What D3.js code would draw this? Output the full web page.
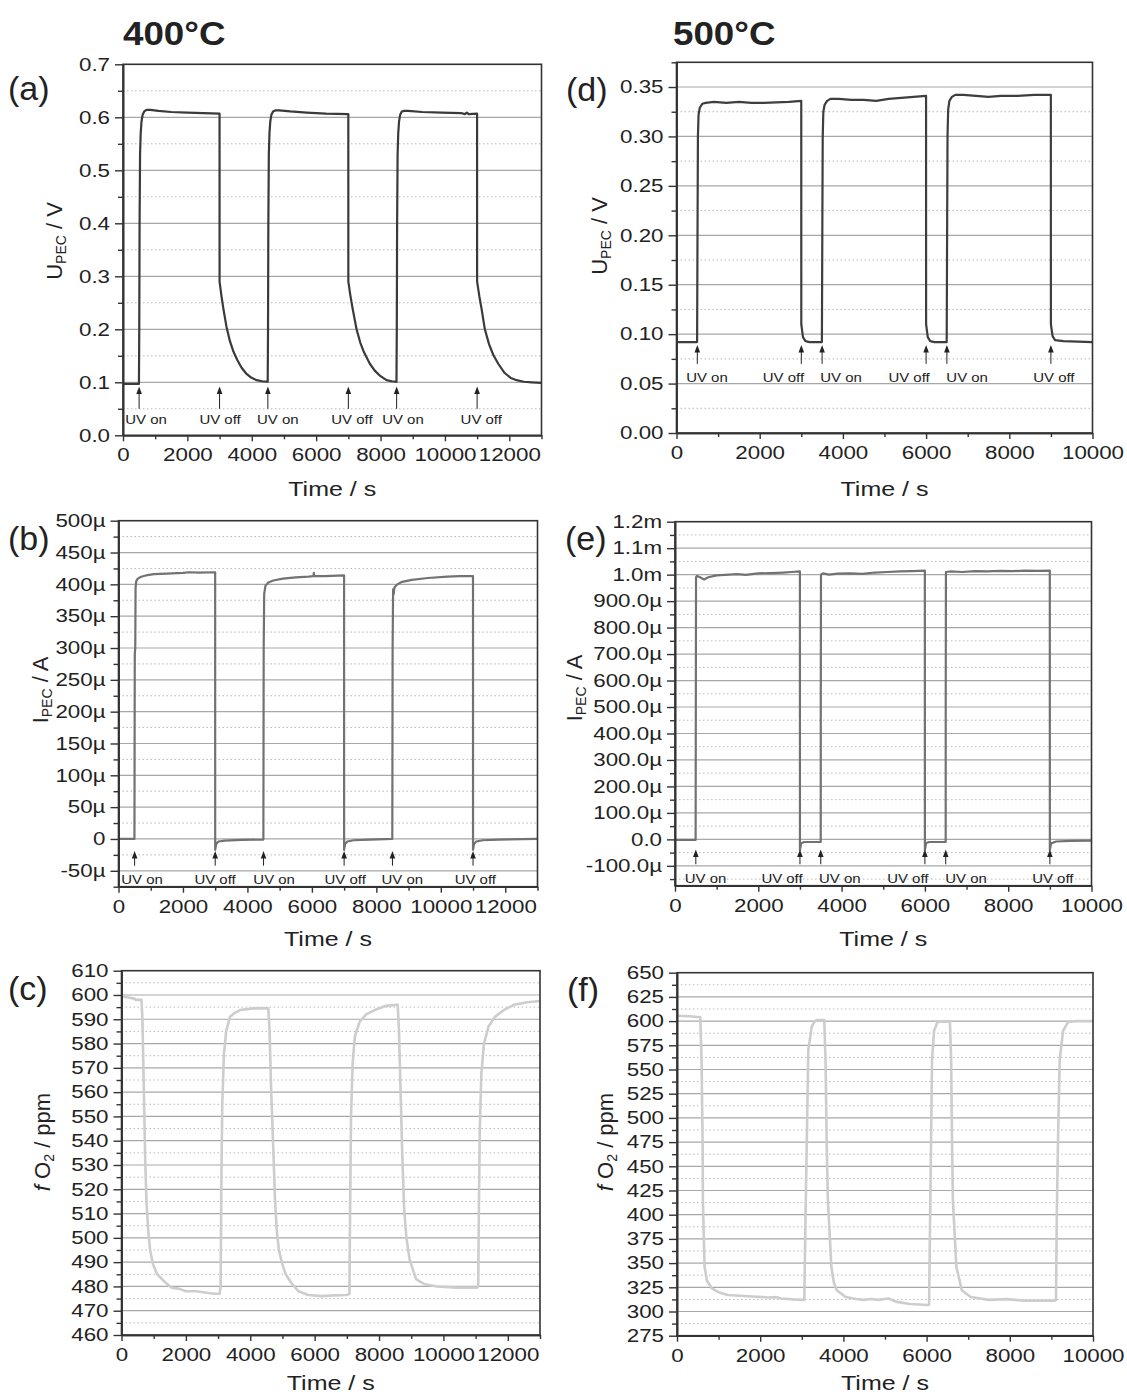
<!DOCTYPE html>
<html>
<head>
<meta charset="utf-8">
<script src="https://cdn.jsdelivr.net/npm/d3@7"></script>
<style>
body { margin: 0; background: #fff; }
text { font-family: "Liberation Sans", Arial, sans-serif; fill: #222; }
</style>
</head>
<body>
<div id="content"></div>
<script>
// ---- data ----
// time / s, U_PEC / V at 400 C  (panel a)
var uPec400 = [
	[0,0.097],[495,0.097],[505,0.2],[515,0.4],[530,0.53],[550,0.57],[575,0.592],[610,0.605],[660,0.611],[730,0.614],[850,0.614],[1100,0.612],[1500,0.61],[2000,0.609],[2500,0.608],[2999,0.607],
	[3000,0.29],[3060,0.262],[3120,0.238],[3214,0.205],[3320,0.178],[3430,0.158],[3550,0.142],[3680,0.128],[3820,0.117],[3980,0.109],[4150,0.104],[4320,0.102],[4495,0.101],
	[4505,0.2],[4515,0.4],[4530,0.53],[4550,0.57],[4575,0.592],[4610,0.605],[4660,0.611],[4730,0.613],[4850,0.613],[5200,0.611],[5700,0.609],[6300,0.607],[6999,0.606],
	[7000,0.29],[7060,0.265],[7130,0.24],[7255,0.2],[7370,0.175],[7490,0.156],[7668,0.135],[7820,0.122],[7990,0.112],[8186,0.104],[8350,0.102],[8495,0.101],
	[8505,0.2],[8515,0.4],[8530,0.53],[8550,0.57],[8575,0.592],[8610,0.605],[8660,0.611],[8730,0.612],[8850,0.612],[9300,0.61],[9900,0.609],[10500,0.608],[10620,0.606],[10680,0.609],[10740,0.606],[10999,0.607],
	[11000,0.29],[11070,0.262],[11140,0.238],[11240,0.2],[11370,0.172],[11500,0.152],[11657,0.135],[11850,0.118],[12050,0.108],[12228,0.104],[12450,0.101],[12700,0.1],[13000,0.099]
];
// time / s, U_PEC / V at 500 C  (panel d)
var uPec500 = [
	[0,0.092],[495,0.092],[505,0.2],[515,0.3],[530,0.322],[560,0.329],[620,0.333],[700,0.334],[900,0.335],[1200,0.334],[1500,0.335],[1800,0.334],[2100,0.334],[2400,0.3345],[2700,0.335],[2999,0.336],
	[3000,0.11],[3040,0.097],[3100,0.093],[3200,0.092],[3495,0.092],
	[3505,0.2],[3515,0.3],[3530,0.325],[3560,0.332],[3620,0.336],[3700,0.338],[3900,0.338],[4200,0.337],[4500,0.337],[4800,0.336],[5100,0.338],[5400,0.339],[5700,0.34],[5999,0.341],
	[6000,0.11],[6040,0.097],[6100,0.093],[6200,0.092],[6495,0.092],
	[6505,0.2],[6515,0.3],[6530,0.327],[6560,0.336],[6620,0.34],[6700,0.342],[6900,0.342],[7200,0.341],[7500,0.34],[7800,0.341],[8200,0.341],[8600,0.342],[8999,0.342],
	[9000,0.11],[9040,0.098],[9100,0.094],[9300,0.093],[10000,0.092]
];
// time / s, I_PEC / uA at 400 C  (panel b)
var iPec400 = [
	[0,0],[495,0],[500,150],[505,290],[520,300],[530,395],[550,405],[600,409],[700,412],[850,414],[1100,416],[1500,417],[2000,418],[2200,419],[2500,418.5],[2999,419],
	[3000,-17],[3030,-8],[3100,-4],[3300,-2.5],[3800,-1.5],[4495,-1],
	[4500,150],[4505,300],[4520,385],[4560,398],[4650,403],[4800,406],[5100,409],[5500,411],[5900,412],[6050,413],[6060,418],[6070,413],[6400,413],[6999,414],
	[7000,-17],[7030,-8],[7100,-4],[7300,-2],[7800,-1],[8495,0],
	[8500,150],[8505,300],[8520,392],[8540,385],[8560,395],[8650,400],[8800,404],[9100,407],[9600,410],[10200,412],[10600,413],[10999,413],
	[11000,-17],[11030,-8],[11100,-4],[11300,-2],[11800,-1],[13000,0]
];
// time / s, I_PEC / uA at 500 C  (panel e)
var iPec500 = [
	[0,-2],[495,-2],[500,500],[505,990],[530,995],[600,990],[700,982],[800,990],[1000,997],[1300,1000],[1500,1002],[1700,999],[2000,1005],[2300,1006],[2600,1008],[2800,1010],[2999,1012],
	[3000,-40],[3030,-15],[3100,-10],[3499,-10],
	[3500,500],[3505,1000],[3550,1005],[3700,1000],[3900,1004],[4200,1005],[4500,1003],[4800,1008],[5100,1010],[5400,1012],[5700,1013],[5999,1015],
	[6000,-40],[6030,-14],[6100,-10],[6499,-10],
	[6500,500],[6505,1010],[6600,1012],[6900,1010],[7200,1013],[7500,1012],[7800,1014],[8100,1013],[8400,1015],[8700,1014],[8999,1015],
	[9000,-40],[9030,-15],[9150,-8],[9500,-6],[10000,-5]
];
// time / s, fO2 / ppm at 400 C  (panel c)
var fO2_400 = [
	[0,599.3],[200,599],[400,598.5],[450,598],[550,598],[620,598],[650,590],[680,570],[710,550],[740,530],[776,515],[830,503],[888,495],[980,489],[1109,485],[1332,482],[1550,479.5],[1800,479],[2000,478],[2330,478],[2600,477.5],[2876,477],[3050,477],
	[3080,480],[3100,520],[3130,555],[3180,575],[3250,585],[3370,591],[3500,592.5],[3680,593.8],[4100,594.5],[4560,594.5],
	[4600,585],[4650,560],[4717,536],[4770,515],[4830,502],[4890,495],[5000,489],[5100,485],[5300,481],[5500,478],[5800,476.5],[6200,476],[6600,476.3],[7000,476.5],[7080,477],
	[7100,510],[7130,550],[7180,572],[7250,583],[7400,589],[7600,592],[7900,594],[8200,595.5],[8580,596],
	[8620,585],[8670,560],[8720,535],[8780,512],[8850,500],[8950,491],[9150,483],[9400,481],[9800,480],[10400,479.5],[11050,479.5],[11080,480],
	[11100,510],[11130,545],[11180,568],[11260,580],[11400,587],[11600,591],[11900,594],[12200,596],[12600,597],[13000,597.5]
];
// time / s, fO2 / ppm at 500 C  (panel f)
var fO2_500 = [
	[0,605.5],[300,605],[560,604],[590,560],[617,470],[622,415],[663,346],[720,332],[836,324],[1000,320],[1223,317],[1600,316],[1909,315.3],[2200,314.5],[2400,314.8],[2500,313.5],[2800,312.5],[3026,312],[3060,312],
	[3090,400],[3117,467],[3156,570],[3237,594],[3300,599],[3358,601],[3540,601],
	[3570,560],[3600,470],[3627,415],[3711,346],[3770,330],[3841,322],[4055,315],[4300,313],[4485,312],[4656,313],[4842,312],[5000,313],[5086,313.5],[5257,310.2],[5601,307.8],[6031,306.7],[6060,307],
	[6080,380],[6100,450],[6130,560],[6180,590],[6250,598],[6300,599.5],[6560,599.5],
	[6590,560],[6610,480],[6632,415],[6716,346],[6846,322],[7060,315],[7490,312],[7918,312.8],[8348,311.2],[9080,311.2],[9110,312],
	[9130,400],[9160,480],[9200,560],[9280,590],[9400,599],[9600,600],[10000,600]
];

// UV on/off marks: arrow time, label, label centre time
var uvMarks400 = [
	{t: 500, text: "UV on", lt: 715},
	{t: 3000, text: "UV off", lt: 3015},
	{t: 4500, text: "UV on", lt: 4809},
	{t: 7000, text: "UV off", lt: 7112},
	{t: 8500, text: "UV on", lt: 8697},
	{t: 11000, text: "UV off", lt: 11128}
];
var uvMarks400b = [
	{t: 500, text: "UV on", lt: 730},
	{t: 3000, text: "UV off", lt: 2997},
	{t: 4500, text: "UV on", lt: 4829},
	{t: 7000, text: "UV off", lt: 7034},
	{t: 8500, text: "UV on", lt: 8804},
	{t: 11000, text: "UV off", lt: 11071}
];
var uvMarks500 = [
	{t: 500, text: "UV on", lt: 733},
	{t: 3000, text: "UV off", lt: 2570},
	{t: 3500, text: "UV on", lt: 3957},
	{t: 6000, text: "UV off", lt: 5590},
	{t: 6500, text: "UV on", lt: 6987},
	{t: 9000, text: "UV off", lt: 9072}
];

// tick values
var timeTicks400 = [0, 2000, 4000, 6000, 8000, 10000, 12000];
var timeTicks500 = [0, 2000, 4000, 6000, 8000, 10000];
var ticksA = [0, 0.1, 0.2, 0.3, 0.4, 0.5, 0.6, 0.7];
var ticksD = [0, 0.05, 0.1, 0.15, 0.2, 0.25, 0.3, 0.35];
var ticksB = [-50, 0, 50, 100, 150, 200, 250, 300, 350, 400, 450, 500];
var ticksE = [-100, 0, 100, 200, 300, 400, 500, 600, 700, 800, 900, 1000, 1100, 1200];
var ticksC = [460, 470, 480, 490, 500, 510, 520, 530, 540, 550, 560, 570, 580, 590, 600, 610];
var ticksF = [275, 300, 325, 350, 375, 400, 425, 450, 475, 500, 525, 550, 575, 600, 625, 650];

var svg = d3.select("#content").append("svg")
	.attr("width", 1127).attr("height", 1397)
	.attr("id", "svg");

svg.append("rect").attr("width", 1127).attr("height", 1397).style("fill", "#fff");

// widen text horizontally like the scanned figure
function stretch(sel, k) {
	sel.each(function () {
		var w = this.getComputedTextLength();
		d3.select(this).attr("textLength", w * k).attr("lengthAdjust", "spacingAndGlyphs");
	});
}

function minorsOf(domain, step, majors) {
	var lo = Math.min(domain[0], domain[1]), hi = Math.max(domain[0], domain[1]);
	var start = Math.ceil(lo / step - 1e-9) * step;
	return d3.range(start, hi + step * 0.001, step).filter(function (v) {
		return !majors.some(function (m) { return Math.abs(m - v) < step * 0.01; });
	});
}

var drawPanel = function (p) {
	var left = p.box[0], right = p.box[1], top = p.box[2], bottom = p.box[3];
	var x = d3.scaleLinear().domain(p.xDomain).range([left, right]);
	var y = d3.scaleLinear().domain(p.yDomain).range([bottom, top]);
	var g = svg.append("g");

	var yMinor = minorsOf(p.yDomain, p.yMinorStep, p.yTicks);
	var xMinor = minorsOf(p.xDomain, 1000, p.xTicks);
	var inside = function (v) { return y(v) > top + 0.5 && y(v) < bottom - 0.5; };

	// grid
	g.append("g").selectAll("line").data(yMinor.filter(inside)).enter().append("line")
		.attr("x1", left).attr("x2", right)
		.attr("y1", function (d) { return y(d); }).attr("y2", function (d) { return y(d); })
		.style("stroke", "#b8b8b8").style("stroke-width", 1).style("stroke-dasharray", "1.5,2.5");
	g.append("g").selectAll("line").data(p.yTicks.filter(inside)).enter().append("line")
		.attr("x1", left).attr("x2", right)
		.attr("y1", function (d) { return y(d); }).attr("y2", function (d) { return y(d); })
		.style("stroke", "#a8a8a8").style("stroke-width", 1.2);

	// data
	var line = d3.line().x(function (d) { return x(d[0]); }).y(function (d) { return y(d[1]); });
	g.append("path").datum(p.data)
		.attr("d", line)
		.style("fill", "none").style("stroke", p.color).style("stroke-width", p.width || 2.2)
		.style("stroke-linejoin", "round");

	// frame
	g.append("rect").attr("x", left).attr("y", top)
		.attr("width", right - left).attr("height", bottom - top)
		.style("fill", "none").style("stroke", "#333").style("stroke-width", 1.6);

	// axes
	var yAxis = d3.axisLeft(y).tickValues(p.yTicks).tickFormat(p.yFormat).tickSize(8).tickPadding(5).tickSizeOuter(0);
	var yAxisMinor = d3.axisLeft(y).tickValues(yMinor).tickFormat("").tickSize(5).tickSizeOuter(0);
	var xAxis = d3.axisBottom(x).tickValues(p.xTicks).tickFormat(d3.format("d")).tickSize(6).tickPadding(7).tickSizeOuter(0);
	var xAxisMinor = d3.axisBottom(x).tickValues(xMinor).tickFormat("").tickSize(4).tickSizeOuter(0);

	var ya = g.append("g").attr("transform", "translate(" + left + ",0)").call(yAxis);
	g.append("g").attr("transform", "translate(" + left + ",0)").call(yAxisMinor);
	var xa = g.append("g").attr("transform", "translate(0," + bottom + ")").call(xAxis);
	g.append("g").attr("transform", "translate(0," + bottom + ")").call(xAxisMinor);

	g.selectAll(".domain").style("stroke", "#333").style("stroke-width", 1.6);
	g.selectAll(".tick line").style("stroke", "#333").style("stroke-width", 1.4);
	g.selectAll(".tick text").style("font-family", "'Liberation Sans', Arial, sans-serif")
		.style("font-size", "18px").style("fill", "#222");
	xa.selectAll(".tick text").attr("dy", null).attr("y", 26).attr("dominant-baseline", null);
	stretch(ya.selectAll(".tick text"), 1.24);
	stretch(xa.selectAll(".tick text"), 1.24);

	// UV annotations
	var ann = g.append("g");
	p.marks.forEach(function (m) {
		var ax = x(m.t), y0 = y(p.arrow[0]), y1 = y(p.arrow[1]);
		ann.append("line").attr("x1", ax).attr("x2", ax).attr("y1", y1).attr("y2", y0 + 5)
			.style("stroke", "#222").style("stroke-width", 1);
		ann.append("path")
			.attr("d", "M" + ax + "," + y0 + "L" + (ax - 2.8) + "," + (y0 + 7.5) + "L" + (ax + 2.8) + "," + (y0 + 7.5) + "Z")
			.style("fill", "#222");
		var t = ann.append("text").attr("x", x(m.lt)).attr("y", y(p.arrow[2]))
			.attr("text-anchor", "middle").style("font-size", "13px").text(m.text);
		stretch(t, 1.15);
	});

	// axis titles
	var xt = g.append("text").attr("x", (left + right) / 2).attr("y", p.xTitleY)
		.attr("text-anchor", "middle").style("font-size", "20px").text("Time / s");
	stretch(xt, 1.25);

	var yt = g.append("text")
		.attr("transform", "translate(" + p.yTitle[0] + "," + p.yTitle[1] + ") rotate(-90)")
		.attr("text-anchor", "middle").style("font-size", "22px");
	p.yTitleParts.forEach(function (part) {
		var ts = yt.append("tspan").text(part.s);
		if (part.sub) ts.style("font-size", "14px").attr("dy", 4);
		if (part.back) ts.attr("dy", -4);
		if (part.it) ts.style("font-style", "italic");
	});

	// panel letter
	g.append("text").attr("x", p.letter[0]).attr("y", p.letter[1])
		.style("font-size", "34px").text(p.letter[2]);
};

var fmtB = function (v) { return v === 0 ? "0" : v + "\u00b5"; };
var fmtE = function (v) {
	if (v === 0) return "0.0";
	if (Math.abs(v) >= 1000) return (v / 1000).toFixed(1) + "m";
	return v.toFixed(1) + "\u00b5";
};

var uTitle = [{s: "U"}, {s: "PEC", sub: true}, {s: " / V", back: true}];
var iTitle = [{s: "I"}, {s: "PEC", sub: true}, {s: " / A", back: true}];
var fTitle = [{s: "f", it: true}, {s: " O"}, {s: "2", sub: true}, {s: " / ppm", back: true}];

drawPanel({box: [123, 541.5, 64.3, 435.3], xDomain: [0, 13000], yDomain: [0, 0.7],
	xTicks: timeTicks400, yTicks: ticksA, yMinorStep: 0.05, yFormat: d3.format(".1f"),
	data: uPec400, color: "#3a3a3a", marks: uvMarks400, arrow: [0.092, 0.05, 0.021],
	xTitleY: 496, yTitle: [62, 241], yTitleParts: uTitle, letter: [8, 100, "(a)"]});

drawPanel({box: [676.5, 1092.5, 62.3, 433], xDomain: [0, 10000], yDomain: [0, 0.375],
	xTicks: timeTicks500, yTicks: ticksD, yMinorStep: 0.025, yFormat: d3.format(".2f"),
	data: uPec500, color: "#3e3e3e", marks: uvMarks500, arrow: [0.089, 0.07, 0.052],
	xTitleY: 496, yTitle: [607, 236], yTitleParts: uTitle, letter: [566, 101, "(d)"]});

drawPanel({box: [118.5, 537.5, 520.7, 886.7], xDomain: [0, 13000], yDomain: [-75, 500],
	xTicks: timeTicks400, yTicks: ticksB, yMinorStep: 25, yFormat: fmtB,
	data: iPec400, color: "#727272", marks: uvMarks400b, arrow: [-19, -42, -70],
	xTitleY: 946, yTitle: [48, 690], yTitleParts: iTitle, letter: [8, 550, "(b)"]});

drawPanel({box: [675, 1091.5, 521.7, 885.7], xDomain: [0, 10000], yDomain: [-175, 1200],
	xTicks: timeTicks500, yTicks: ticksE, yMinorStep: 50, yFormat: fmtE,
	data: iPec500, color: "#727272", marks: uvMarks500, arrow: [-38, -94, -166],
	xTitleY: 946, yTitle: [582, 688], yTitleParts: iTitle, letter: [565, 550, "(e)"]});

drawPanel({box: [121.5, 540, 970.7, 1335], xDomain: [0, 13000], yDomain: [460, 610],
	xTicks: timeTicks400, yTicks: ticksC, yMinorStep: 5, yFormat: d3.format("d"),
	data: fO2_400, color: "#cdcdcd", width: 2.6, marks: [], arrow: [0, 0, 0],
	xTitleY: 1390, yTitle: [50, 1142], yTitleParts: fTitle, letter: [8, 1000, "(c)"]});

drawPanel({box: [677, 1093, 972.7, 1335.7], xDomain: [0, 10000], yDomain: [275, 650],
	xTicks: timeTicks500, yTicks: ticksF, yMinorStep: 12.5, yFormat: d3.format("d"),
	data: fO2_500, color: "#cdcdcd", width: 2.6, marks: [], arrow: [0, 0, 0],
	xTitleY: 1390, yTitle: [613, 1142], yTitleParts: fTitle, letter: [567, 1001, "(f)"]});

// column titles
var t1 = svg.append("text").attr("x", 123).attr("y", 45)
	.style("font-size", "34px").style("font-weight", "bold").text("400\u00b0C");
var t2 = svg.append("text").attr("x", 673).attr("y", 45)
	.style("font-size", "34px").style("font-weight", "bold").text("500\u00b0C");
stretch(t1, 1.08);
stretch(t2, 1.08);
</script>
</body>
</html>
